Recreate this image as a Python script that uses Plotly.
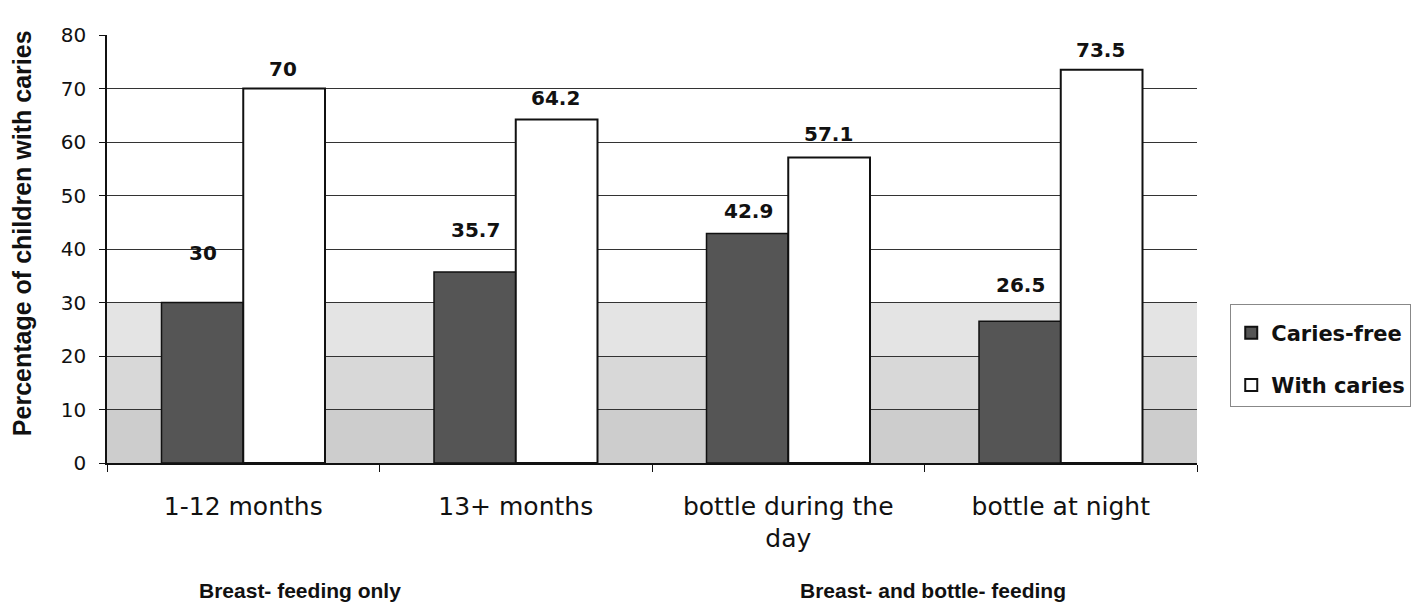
import plotly.graph_objects as go

categories = ["1-12 months", "13+ months", "bottle during the<br>day", "bottle at night"]
caries_free = [30, 35.7, 42.9, 26.5]
with_caries = [70, 64.2, 57.1, 73.5]
series_names = ["Caries-free", "With caries"]
group_labels = ["Breast- feeding only", "Breast- and bottle- feeding"]
y_ticks = [0, 10, 20, 30, 40, 50, 60, 70, 80]
y_title = "Percentage of children with caries"

# label offsets (px above bar top) as seen in the reference
dark_label_shift = [50, 42, 22, 36]
white_label_shift = [20, 22, 24, 20]

ARIAL = "Liberation Sans, Arial, sans-serif"
WIDE = "DejaVu Sans, sans-serif"

fig = go.Figure()
fig.add_trace(go.Bar(
    x=categories, y=caries_free, name=series_names[0],
    marker=dict(color="#555555", line=dict(color="#111111", width=1.5)),
    legendgroup="a",
))
fig.add_trace(go.Bar(
    x=categories, y=with_caries, name=series_names[1],
    marker=dict(color="#ffffff", line=dict(color="#111111", width=2)),
    legendgroup="b",
))

ann = []
for i, c in enumerate(categories):
    ann.append(dict(x=c, y=caries_free[i], xref="x", yref="y", text=f"<b>{caries_free[i]:g}</b>",
                    showarrow=False, xshift=-40, yshift=dark_label_shift[i], yanchor="middle",
                    font=dict(family=WIDE, size=20, color="#111111")))
    ann.append(dict(x=c, y=with_caries[i], xref="x", yref="y", text=f"<b>{with_caries[i]:g}</b>",
                    showarrow=False, xshift=40, yshift=white_label_shift[i], yanchor="middle",
                    font=dict(family=WIDE, size=20, color="#111111")))

# group labels under the categories
ann.append(dict(x=0.21, y=-0.298, xref="x", yref="paper", text=f"<b>{group_labels[0]}</b>",
                showarrow=False, yanchor="middle",
                font=dict(family=ARIAL, size=21, color="#111111")))
ann.append(dict(x=2.53, y=-0.298, xref="x", yref="paper", text=f"<b>{group_labels[1]}</b>",
                showarrow=False, yanchor="middle",
                font=dict(family=ARIAL, size=21, color="#111111")))
# y axis title
ann.append(dict(x=-0.078, y=0.537, xref="paper", yref="paper", text=f"<b>{y_title}</b>",
                textangle=-90, showarrow=False, xanchor="center", yanchor="middle",
                font=dict(family=ARIAL, size=25, color="#111111")))

shapes = [
    dict(type="rect", xref="paper", yref="y", x0=0, x1=1, y0=0, y1=10, layer="below",
         fillcolor="#cdcdcd", line=dict(width=0)),
    dict(type="rect", xref="paper", yref="y", x0=0, x1=1, y0=10, y1=20, layer="below",
         fillcolor="#d8d8d8", line=dict(width=0)),
    dict(type="rect", xref="paper", yref="y", x0=0, x1=1, y0=20, y1=30, layer="below",
         fillcolor="#e4e4e4", line=dict(width=0)),
]

# page body has an 8px margin, so the figure is shifted by 8px; compensate
fig.update_layout(
    width=1420, height=603,
    margin=dict(l=99, r=231, t=27, b=148),
    paper_bgcolor="white", plot_bgcolor="white",
    barmode="group", bargap=0.40, bargroupgap=0,
    annotations=ann, shapes=shapes,
    font=dict(family=ARIAL, color="#111111"),
    legend=dict(
        x=1.0305, y=0.372, xanchor="left", yanchor="top",
        bgcolor="white", bordercolor="#888888", borderwidth=1,
        font=dict(family=WIDE, size=21, color="#111111", weight="bold"),
        traceorder="grouped", tracegroupgap=22,
        title=dict(text=" ", font=dict(size=6)),
        itemsizing="constant",
    ),
    showlegend=True,
)

fig.update_xaxes(
    showline=True, linecolor="#111111", linewidth=1.5,
    ticks="outside", tickson="boundaries", ticklen=7, tickcolor="#111111",
    tickfont=dict(family=WIDE, size=25, color="#111111"),
    ticklabelstandoff=20,
    showgrid=False,
)
fig.update_yaxes(
    range=[0, 80], tickvals=y_ticks,
    showline=True, linecolor="#111111", linewidth=1.5,
    ticks="outside", ticklen=6, tickcolor="#111111",
    tickfont=dict(family=WIDE, size=20, color="#111111"),
    ticklabelstandoff=9,
    showgrid=True, gridcolor="#333333", gridwidth=1,
    zeroline=False,
)

fig.write_html("out.html")
